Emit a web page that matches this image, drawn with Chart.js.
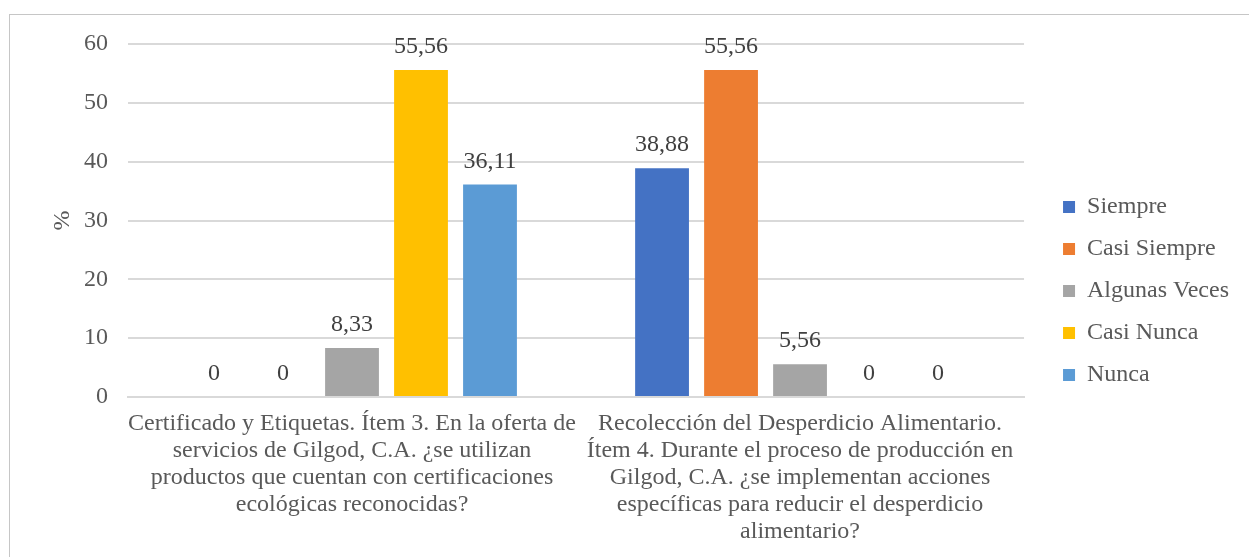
<!DOCTYPE html>
<html>
<head>
<meta charset="utf-8">
<script src="https://cdn.jsdelivr.net/npm/chart.js@4.4.1/dist/chart.umd.min.js"></script>
<style>
  html, body { margin: 0; padding: 0; background: #fff; }
  #frame {
    position: absolute; left: 9px; top: 14px;
    width: 1240px; height: 543px;
    border-top: 1px solid #c6c6c6; border-left: 1px solid #c6c6c6;
  }
  #wrap { position: absolute; left: 0; top: 1px; width: 1240px; height: 542px; }
</style>
</head>
<body>
<div id="frame"><div id="wrap"><canvas id="chart"></canvas></div></div>
<script>
// categories (x axis, multi-line)
var categories = [
  ["Certificado y Etiquetas. Ítem 3. En la oferta de", "servicios de Gilgod, C.A. ¿se utilizan", "productos que cuentan con certificaciones", "ecológicas reconocidas?"],
  ["Recolección del Desperdicio Alimentario.", "Ítem 4. Durante el proceso de producción en", "Gilgod, C.A. ¿se implementan acciones", "específicas para reducir el desperdicio", "alimentario?"]
];

var seriesNames = ["Siempre", "Casi Siempre", "Algunas Veces", "Casi Nunca", "Nunca"];
var siempre = [0, 38.88];
var casiSiempre = [0, 55.56];
var algunasVeces = [8.33, 5.56];
var casiNunca = [55.56, 0];
var nunca = [36.11, 0];
var seriesColors = ["#4472C4", "#ED7D31", "#A5A5A5", "#FFC000", "#5B9BD5"];

var yTicks = [0, 10, 20, 30, 40, 50, 60];
var yTitle = "%";

var FONT = "'Liberation Serif', 'Times New Roman', serif";
var TXT = "#595959";

function fmt(v) {
  return String(v).replace(".", ",");
}

// draws the value above each bar
var barLabels = {
  id: 'barLabels',
  afterDatasetsDraw: function(chart) {
    var ctx = chart.ctx;
    ctx.save();
    ctx.font = "24px " + FONT;
    ctx.fillStyle = "#404040";
    ctx.textAlign = "center";
    ctx.textBaseline = "alphabetic";
    chart.data.datasets.forEach(function(ds, i) {
      var meta = chart.getDatasetMeta(i);
      meta.data.forEach(function(bar, j) {
        ctx.fillText(fmt(ds.data[j]), bar.x, bar.y - 17);
      });
    });
    ctx.restore();
  }
};

// nudge the legend block a bit right / up, like the original
var legendNudge = {
  id: 'legendNudge',
  afterLayout: function(chart) {
    var lg = chart.legend;
    if (!lg) return;
    lg.left += 21; lg.right += 21;
    lg.top -= 10; lg.bottom -= 10;
  }
};

var allData = [siempre, casiSiempre, algunasVeces, casiNunca, nunca];
var datasets = [];
for (var k = 0; k < seriesNames.length; ++k) {
  datasets.push({
    label: seriesNames[k],
    data: allData[k],
    backgroundColor: seriesColors[k],
    categoryPercentage: 0.77,
    barPercentage: 0.78
  });
}

var ctx = document.getElementById('chart').getContext('2d');
var chart = new Chart(ctx, {
  type: 'bar',
  data: { labels: categories, datasets: datasets },
  plugins: [barLabels, legendNudge],
  options: {
    responsive: true,
    maintainAspectRatio: false,
    animation: false,
    layout: { padding: { left: 0, right: 32, top: 28, bottom: 0 } },
    plugins: {
      legend: {
        position: 'right',
        labels: {
          font: { family: FONT, size: 24 },
          color: TXT,
          boxWidth: 12,
          boxHeight: 12,
          padding: 18
        }
      },
      tooltip: { enabled: false }
    },
    scales: {
      x: {
        grid: { display: false, drawTicks: false },
        border: { color: '#d9d9d9', width: 2 },
        ticks: {
          font: { family: FONT, size: 24, lineHeight: 1.125 },
          color: TXT,
          maxRotation: 0,
          autoSkip: false,
          padding: 13
        }
      },
      y: {
        min: 0,
        max: 60,
        afterBuildTicks: function(s) {
          s.ticks = yTicks.map(function(v) { return { value: v }; });
        },
        afterFit: function(s) { s.width = 118; s.paddingTop = 0; s.paddingBottom = 0; },
        grid: { color: '#d9d9d9', lineWidth: 2, drawTicks: false },
        border: { display: false },
        ticks: {
          font: { family: FONT, size: 24 },
          color: TXT,
          padding: 20
        },
        title: {
          display: true,
          text: yTitle,
          font: { family: FONT, size: 24 },
          color: TXT,
          padding: { top: 38, bottom: 0 }
        }
      }
    }
  }
});
</script>
</body>
</html>
